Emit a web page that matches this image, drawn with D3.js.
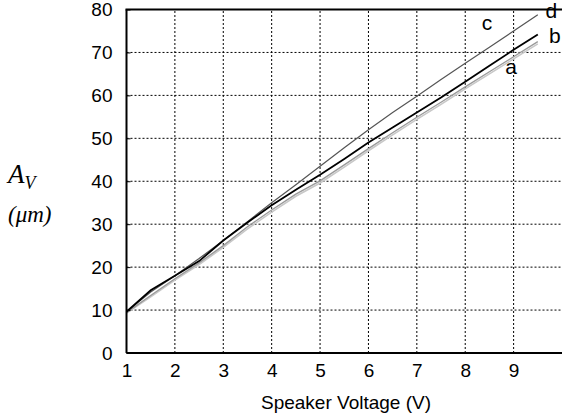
<!DOCTYPE html>
<html><head><meta charset="utf-8">
<script src="https://cdn.jsdelivr.net/npm/d3@7"></script>
<style>body{margin:0;background:#fff}svg{display:block}</style>
</head><body>
<svg id="c" width="562" height="416"></svg>
<script>
const voltage = [1,1.5,2,2.5,3,3.5,4,4.5,5,5.5,6,6.5,7,7.5,8,8.5,9,9.5];
const seriesA = [9.4,13.4,17.3,21,25,29.4,33.3,37,40.1,43.8,47.6,51.3,54.9,58.4,62,65.5,69,72.5];
const seriesB = [9.6,14.6,18,21.4,26.2,30.4,34.4,38,41.5,45.2,49,52.5,56,59.5,63.2,66.9,70.6,74.2];
const seriesC = [9.3,13.1,17,20.6,24.6,28.9,32.8,36.5,39.6,43.3,47.1,50.8,54.4,57.9,61.5,65,68.5,72];
const seriesD = [9.6,14.2,18,22,26.2,30.6,35,39.2,43.5,47.8,52,56,59.8,63.7,67.5,71.2,75,78.8];
const xTicks = [1,2,3,4,5,6,7,8,9];
const yTicks = [0,10,20,30,40,50,60,70,80];
const labels = [
  {t:"c", x:8.45, y:75.3},
  {t:"d", x:9.78, y:78.0},
  {t:"b", x:9.85, y:72.2},
  {t:"a", x:8.95, y:65.0}
];

const svg = d3.select("#c");
const x = d3.scaleLinear().domain([1,10]).range([126.5,562]);
const y = d3.scaleLinear().domain([0,80]).range([353,9.5]);
const font = "Liberation Sans, Arial, sans-serif";

// grid
const g = svg.append("g");
g.selectAll("line.gx").data(xTicks.filter(d=>d>1)).enter().append("line")
  .attr("x1",d=>x(d)).attr("x2",d=>x(d)).attr("y1",y(0)).attr("y2",y(80))
  .attr("stroke","#000").attr("stroke-width",1).attr("stroke-dasharray","2,2");
g.selectAll("line.gy").data(yTicks.filter(d=>d>0&&d<80)).enter().append("line")
  .attr("x1",x(1)).attr("x2",x(10)).attr("y1",d=>y(d)).attr("y2",d=>y(d))
  .attr("stroke","#000").attr("stroke-width",1).attr("stroke-dasharray","2,2");

// lines
const line = d3.line().x((d,i)=>x(voltage[i])).y(d=>y(d));
const series = [
  {v:seriesC, c:"#c8c8c8", w:1.6},
  {v:seriesA, c:"#9a9a9a", w:1.4},
  {v:seriesD, c:"#555", w:1.2},
  {v:seriesB, c:"#000", w:1.8}
];
series.forEach(s=>{
  svg.append("path").attr("d",line(s.v)).attr("fill","none")
    .attr("stroke",s.c).attr("stroke-width",s.w);
});

// axes
const xAxis = d3.axisBottom(x).tickValues(xTicks).tickSize(0).tickPadding(11);
const yAxis = d3.axisLeft(y).tickValues(yTicks).tickSize(-4).tickPadding(14);
const gx = svg.append("g").attr("transform",`translate(0,${y(0)})`).call(xAxis);
const gy = svg.append("g").attr("transform",`translate(${x(1)},0)`).call(yAxis);
[gx,gy].forEach(a=>{
  a.select(".domain").attr("stroke","#000").attr("stroke-width",2);
  a.selectAll("text").attr("font-family",font).attr("font-size",19).attr("fill","#000");
  a.selectAll(".tick line").attr("stroke","#000");
});
gx.select(".domain").attr("d",`M${x(1)},0H${x(10)}`);
gy.select(".domain").attr("d",`M0,${y(0)}V${y(80)}`);
// top border
svg.append("line").attr("x1",x(1)-1).attr("x2",x(10)).attr("y1",y(80)).attr("y2",y(80))
  .attr("stroke","#000").attr("stroke-width",2);

// series labels
svg.selectAll("text.lab").data(labels).enter().append("text")
  .attr("x",d=>x(d.x)).attr("y",d=>y(d.y)).attr("text-anchor","middle")
  .attr("font-family",font).attr("font-size",21).text(d=>d.t);

// axis titles
svg.append("text").attr("x",346).attr("y",409).attr("text-anchor","middle")
  .attr("font-family",font).attr("font-size",19).text("Speaker Voltage (V)");
const at = svg.append("text").attr("x",8).attr("y",183)
  .attr("font-family","Liberation Serif, Times New Roman, serif").attr("font-style","italic").attr("font-size",27);
at.append("tspan").text("A");
at.append("tspan").attr("font-size",18).attr("dy",6).text("V");
svg.append("text").attr("x",8).attr("y",222)
  .attr("font-family","Liberation Serif, Times New Roman, serif").attr("font-style","italic").attr("font-size",23)
  .text("(μm)");
</script>
</body></html>
